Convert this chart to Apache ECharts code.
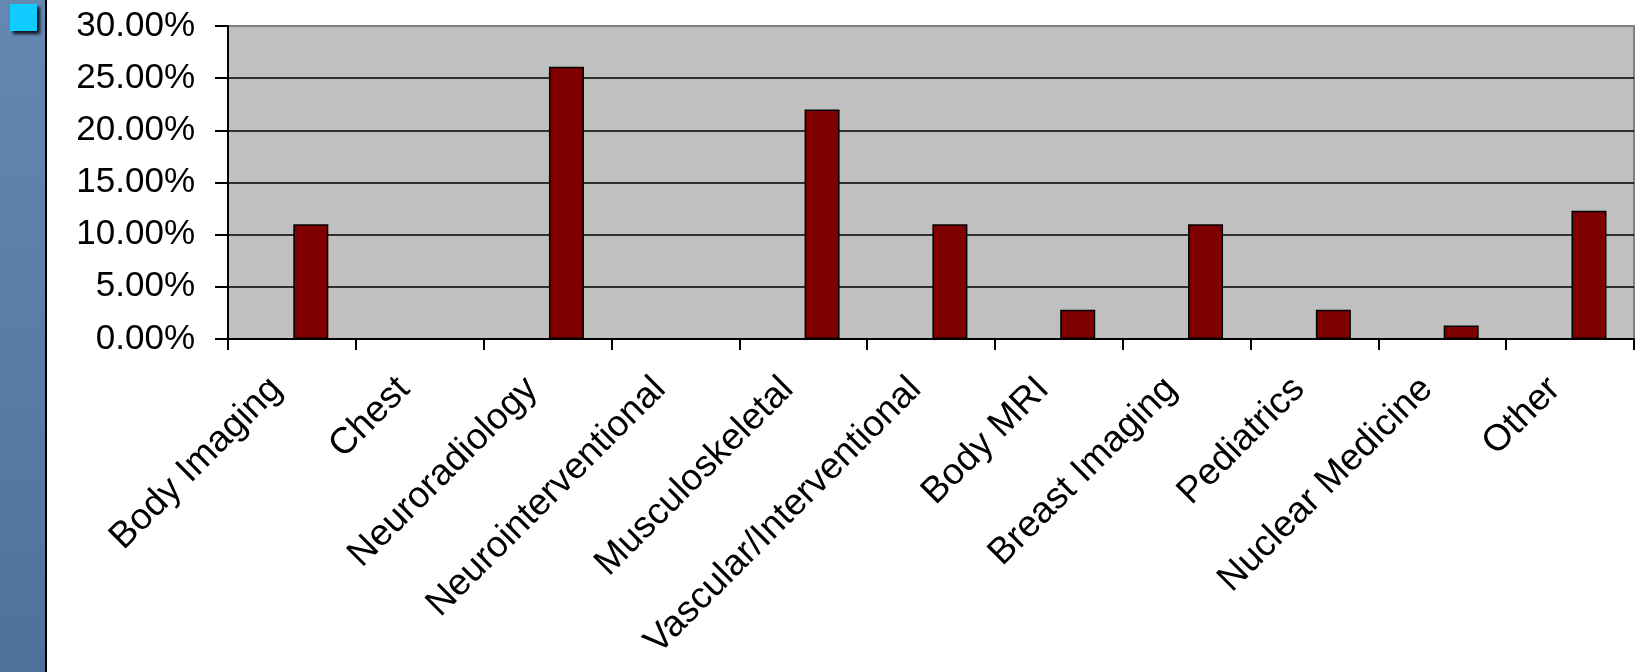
<!DOCTYPE html>
<html>
<head>
<meta charset="utf-8">
<title>Subspecialty choice</title>
<script src="https://cdn.jsdelivr.net/npm/echarts@6/dist/echarts.min.js"></script>
<style>
  html, body { margin: 0; padding: 0; background: #ffffff; }
  #chart { width: 1646px; height: 672px; }
</style>
</head>
<body>
<div id="chart"></div>
<script>
// Subspecialties along the category axis
const categories = [
  'Body Imaging', 'Chest', 'Neuroradiology', 'Neurointerventional',
  'Musculoskeletal', 'Vascular/Interventional', 'Body MRI',
  'Breast Imaging', 'Pediatrics', 'Nuclear Medicine', 'Other'
];

// Share of respondents per subspecialty, in percent
const shares = [11.0, 0, 26.1, 0, 22.0, 11.0, 2.8, 11.0, 2.8, 1.3, 12.3];

// Empty leading slot of each cluster (keeps the bar in the right half of its category)
const leadingSlot = categories.map(() => null);

// Value axis range and step, in percent
const yMin = 0;
const yMax = 30;
const yStep = 5;

const FONT = "'Liberation Sans', Arial, sans-serif";

const chart = echarts.init(document.getElementById('chart'), null, { renderer: 'canvas' });

const gridLineColors = [];
for (let v = yMin; v <= yMax; v += yStep) {
  gridLineColors.push(v === yMax ? '#808080' : '#000000');
}

chart.setOption({
  animation: false,
  backgroundColor: '#ffffff',
  graphic: [
    {
      // slide side strip
      type: 'rect',
      left: 0, top: 0,
      shape: { width: 45, height: 672 },
      style: {
        fill: new echarts.graphic.LinearGradient(0, 0, 0, 1, [
          { offset: 0, color: '#6488b1' },
          { offset: 0.5, color: '#5a7da6' },
          { offset: 1, color: '#4f7199' }
        ])
      },
      z: -10
    },
    {
      type: 'rect',
      left: 45, top: 0,
      shape: { width: 2, height: 672 },
      style: { fill: '#000000' },
      z: -9
    },
    {
      // bullet square
      type: 'rect',
      left: 10, top: 4,
      shape: { width: 27, height: 27 },
      style: {
        fill: '#11ccff',
        shadowColor: 'rgba(0,0,0,0.85)',
        shadowBlur: 3,
        shadowOffsetX: 3,
        shadowOffsetY: 3
      },
      z: -8
    }
  ],
  grid: {
    left: 228,
    right: 12,
    top: 26,
    bottom: 333,
    show: true,
    backgroundColor: '#c0c0c0',
    borderColor: '#808080',
    borderWidth: 2,
    outerBoundsMode: 'none',
    containLabel: false
  },
  xAxis: {
    type: 'category',
    data: categories,
    boundaryGap: true,
    axisLine: { show: true, lineStyle: { color: '#000000', width: 2 } },
    axisTick: { show: true, interval: 0, length: 11, lineStyle: { color: '#000000', width: 2 } },
    axisLabel: {
      interval: 0,
      rotate: 45,
      margin: 29,
      padding: [0, 22, 0, 0],
      color: '#000000',
      fontFamily: FONT,
      fontSize: 37
    },
    splitLine: { show: false }
  },
  yAxis: {
    type: 'value',
    min: yMin,
    max: yMax,
    interval: yStep,
    axisLine: { show: true, lineStyle: { color: '#000000', width: 2 } },
    axisTick: { show: true, inside: false, length: 13, lineStyle: { color: '#000000', width: 2 } },
    axisLabel: {
      margin: 33,
      color: '#000000',
      fontFamily: FONT,
      fontSize: 35,
      formatter: (v) => v.toFixed(2) + '%'
    },
    splitLine: { show: true, lineStyle: { color: gridLineColors, width: 1.5 } }
  },
  series: [
    {
      name: 'slot',
      type: 'bar',
      data: leadingSlot,
      barWidth: 35,
      barGap: '8%',
      silent: true
    },
    {
      name: 'Share',
      type: 'bar',
      data: shares,
      barWidth: 35,
      barGap: '8%',
      itemStyle: {
        color: '#800000',
        borderColor: '#000000',
        borderWidth: 1.5
      }
    }
  ]
});
</script>
</body>
</html>
